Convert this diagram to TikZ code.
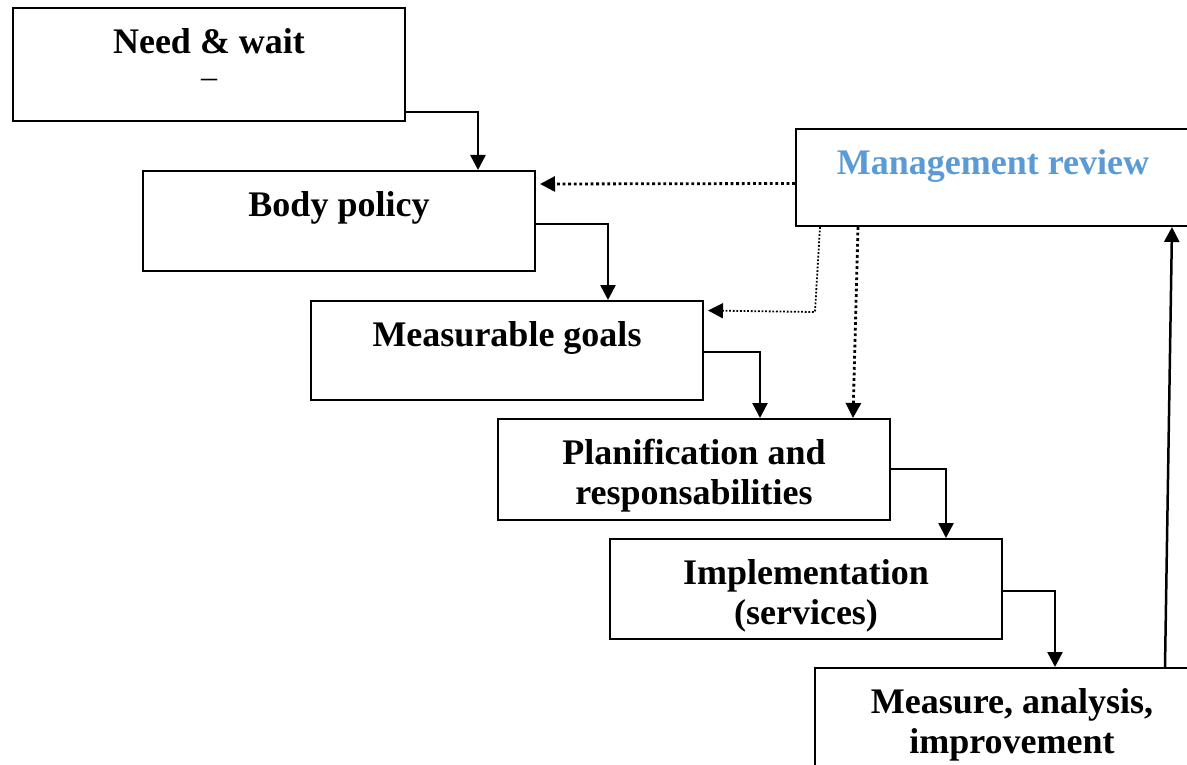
\documentclass[tikz,border=0pt]{standalone}
\usepackage{fontspec}
\setmainfont{Liberation Serif}
\usetikzlibrary{arrows.meta}
\definecolor{reviewblue}{RGB}{91,155,213}
\tikzset{font=\bfseries\fontsize{36}{40}\selectfont}
\tikzset{stage/.style={draw,line width=2pt,minimum width=392pt,minimum height=#1,
    anchor=north west,inner sep=0pt}}
\tikzset{title/.style={label={[anchor=north,inner sep=0pt,yshift=-21pt,align=center]north:{#1}}}}
\tikzset{tip/.style={-{Triangle[width=15pt,length=15pt]}}}
\tikzset{flow/.style={line width=2.5pt,tip}}
\tikzset{feed/.style={line width=2.8pt,dash pattern=on 2.8pt off 2.8pt,tip}}

\begin{document}
\begin{tikzpicture}[x=1pt,y=-1pt]
  \useasboundingbox (0,0) rectangle (1187,765);
  \node[stage=113pt,title={Need \& wait\\[-6pt]{\mdseries\fontsize{32}{40}\selectfont --}}] (need) at (12,7) {};
  \node[stage=100pt,title={Body policy}] (body) at (142,170) {};
  \node[stage=99pt,title={Measurable goals}] (goals) at (310,300) {};
  \node[stage=101pt,title={Planification and\\responsabilities}] (plan) at (497,418) {};
  \node[stage=100pt,title={Implementation\\(services)}] (impl) at (609,538) {};
  \node[stage=104pt,minimum width=394pt,title={Measure, analysis,\\improvement}] (meas) at (814,667) {};
  \node[stage=97pt,minimum width=394pt,title={\textcolor{reviewblue}{Management review}}] (review) at (795,128) {};

  \draw[flow] ([yshift=10pt]need.south east) -| ([xshift=-58pt]body.north east);
  \draw[flow] ([yshift=48pt]body.south east) -| ([xshift=-96pt]goals.north east);
  \draw[flow] ([yshift=49pt]goals.south east) -| ([xshift=-131pt]plan.north east);
  \draw[flow] ([yshift=52pt]plan.south east) -| ([xshift=-57pt]impl.north east);
  \draw[flow] ([yshift=49pt]impl.south east) -| ([xshift=241pt]meas.north west);
  \draw[flow] ([xshift=351pt]meas.north west) -- ([xshift=377pt]review.south west);

  \draw[feed] ([yshift=-6pt]review.west) -- ([xshift=4pt,yshift=37pt]body.east);
  \draw[line width=1.8pt,dash pattern=on 1.8pt off 1.8pt,tip]
    ([xshift=25pt]review.south west) -- ++(-5,85) -- ([xshift=4pt,yshift=40pt]goals.east);
  \draw[feed] ([xshift=63pt]review.south west) -- ([xshift=-38pt]plan.north east);
\end{tikzpicture}
\end{document}
